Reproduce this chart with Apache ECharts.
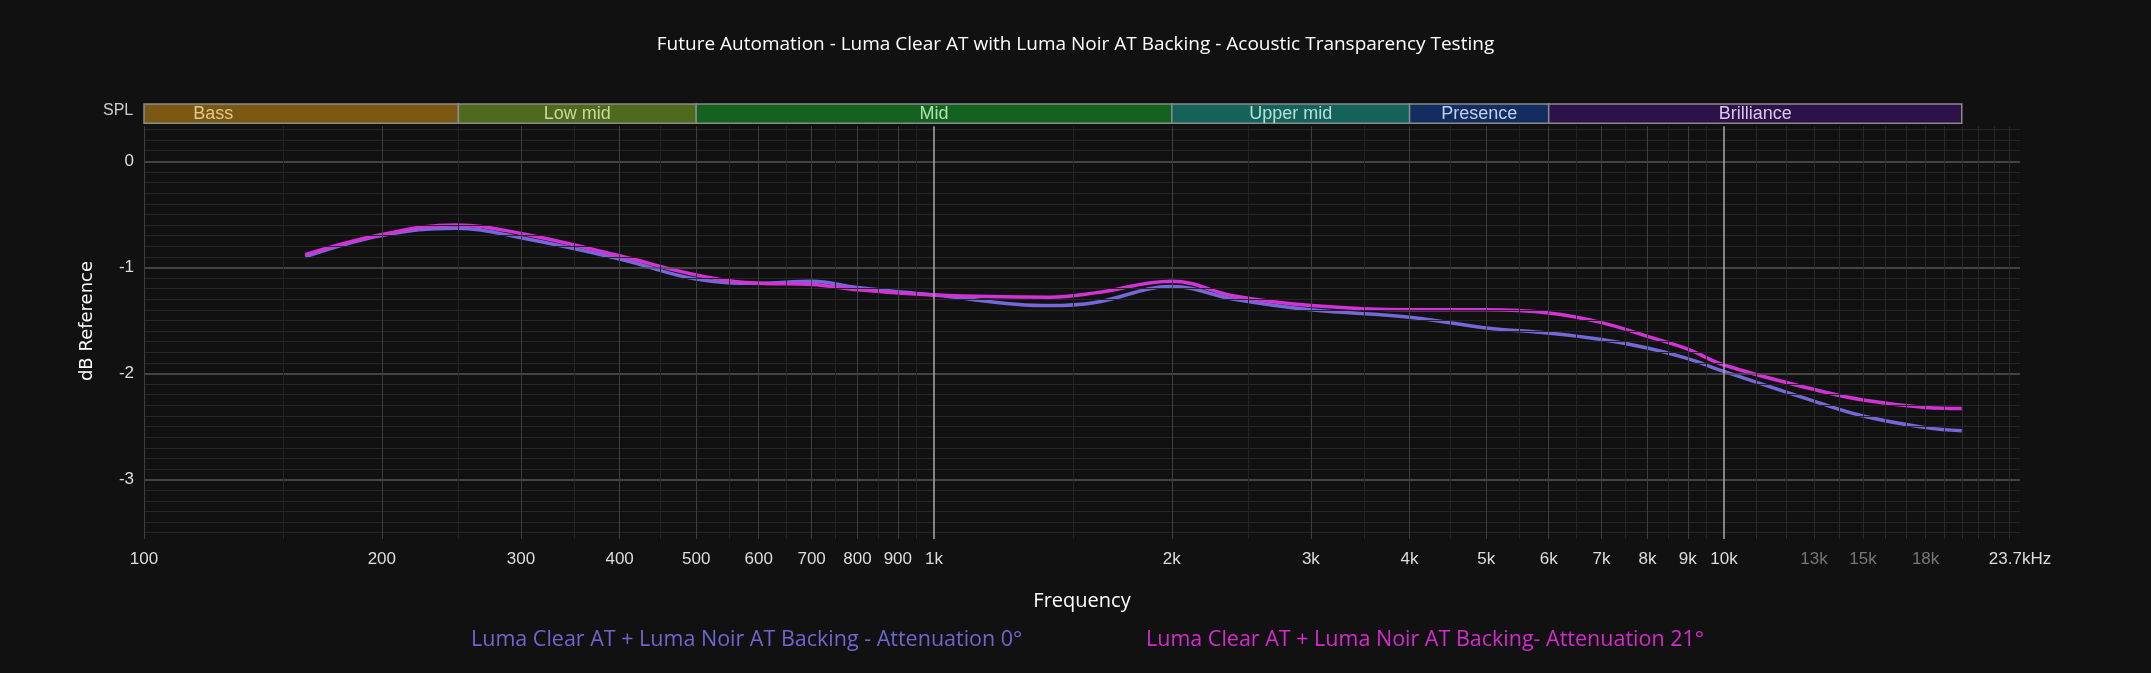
<!DOCTYPE html>
<html><head><meta charset="utf-8">
<script src="https://cdn.jsdelivr.net/npm/echarts@6/dist/echarts.min.js"></script>
<style>html,body{margin:0;background:#111;}#c{width:2151px;height:673px;}</style>
</head><body><div id="c"></div>
<script>
const freqs0 = [160,200,248,300,400,500,600,700,800,1000,1400,1600,2000,2400,3000,4000,5000,6000,7000,8000,9000,10000,13000,15000,18000,20000];
const blue   = [-0.90,-0.70,-0.63,-0.72,-0.92,-1.11,-1.15,-1.13,-1.19,-1.26,-1.36,-1.33,-1.18,-1.30,-1.40,-1.47,-1.57,-1.62,-1.68,-1.76,-1.86,-1.98,-2.26,-2.40,-2.51,-2.54];
const magenta= [-0.88,-0.69,-0.60,-0.68,-0.89,-1.07,-1.15,-1.16,-1.21,-1.26,-1.28,-1.24,-1.13,-1.27,-1.36,-1.40,-1.40,-1.43,-1.52,-1.65,-1.77,-1.92,-2.15,-2.25,-2.32,-2.33];
const tickFreqs = [100,200,300,400,500,600,700,800,900,1000,2000,3000,4000,5000,6000,7000,8000,9000,10000,13000,15000,18000,23700];
const tickLabels = ['100','200','300','400','500','600','700','800','900','1k','2k','3k','4k','5k','6k','7k','8k','9k','10k','13k','15k','18k','23.7kHz'];
const dimTicks = ['13k','15k','18k'];
const yTicks = [0,-1,-2,-3];
const bandNames = ['Bass','Low mid','Mid','Upper mid','Presence','Brilliance'];
const bandEdges = [100,250,500,2000,4000,6000,20000];
const bandColors = ['#7a5812','#4f6a1c','#13621f','#15625a','#132d5e','#2c1249'];
const bandText = ['#e0c890','#c8d8a0','#b0e0b0','#b0e0d8','#c0d0f0','#d8c8f0'];
const seriesNames = ['Luma Clear AT + Luma Noir AT Backing - Attenuation 0°','Luma Clear AT + Luma Noir AT Backing- Attenuation 21°'];

const YMIN=-3.56, YTOP=0.33, YMAX=0.55, BAR0=0.36;
const gridLines=[];
for(let i=-35;i<=3;i++){const v=i/10;const major=i%10===0;
  gridLines.push([{coord:[100,v],lineStyle:{color:major?'#555':'#262626',width:major?1.5:1,type:'solid'}},{coord:[23700,v]}]);}
const vLines=[];
for(let d=100;d<=10000;d*=10){for(let m=1;m<10;m++){for(const h of [0,0.5]){const f=d*(m+h);if(f>23700)continue;
  const lab=(h===0);const bright=(f===1000||f===10000);
  vLines.push([{coord:[f,YMIN],lineStyle:{type:'solid',color:bright?'#aaa':(lab&&(f<11000)?'#3e3e3e':'#242424'),width:bright?1.5:1}},{coord:[f,YTOP]}]);}}}
for(let f=11000;f<=23000;f+=1000){vLines.push([{coord:[f,YMIN],lineStyle:{type:'solid',color:'#2a2a2a',width:1}},{coord:[f,YTOP]}]);}

const bandAreas=bandNames.map((n,i)=>[{name:n,coord:[bandEdges[i],BAR0],itemStyle:{color:bandColors[i],borderColor:'#8a8a8a',borderWidth:1.5},
  label:i===0?{color:bandText[i],position:'insideLeft',distance:50}:{color:bandText[i]}},{coord:[bandEdges[i+1],YMAX-0.01]}]);

const chart=echarts.init(document.getElementById('c'));
chart.setOption({
  backgroundColor:'#111111',
  animation:false,
  title:{text:'Future Automation - Luma Clear AT with Luma Noir AT Backing - Acoustic Transparency Testing',left:'center',top:30,textStyle:{color:'#fff',fontSize:19,fontWeight:'normal',fontFamily:'Open Sans'}},
  grid:{left:144,right:131,top:103,bottom:134},
  legend:[
    {data:[{name:seriesNames[0],textStyle:{color:'#6f66cf'}}],left:460,top:624,itemWidth:0,itemHeight:0,textStyle:{fontSize:21.5,fontFamily:'Open Sans'}},
    {data:[{name:seriesNames[1],textStyle:{color:'#d62ad0'}}],left:1135,top:624,itemWidth:0,itemHeight:0,textStyle:{fontSize:21.5,fontFamily:'Open Sans'}}
  ],
  xAxis:{type:'log',logBase:10,min:100,max:23700,name:'Frequency',nameLocation:'middle',nameGap:52,
    nameTextStyle:{color:'#fff',fontSize:20,fontFamily:'Open Sans'},
    axisLine:{show:false},axisTick:{show:false},splitLine:{show:false},
    axisLabel:{customValues:tickFreqs,margin:12,fontSize:17,fontFamily:'Liberation Sans',
      formatter:v=>{const i=tickFreqs.findIndex(f=>Math.abs(f-v)<1);const t=i>=0?tickLabels[i]:'';return dimTicks.includes(t)?'{d|'+t+'}':t;},
      color:'#ddd',rich:{d:{color:'#777',fontSize:17,fontFamily:'Liberation Sans'}}}},
  yAxis:{type:'value',min:YMIN,max:YMAX,name:'dB Reference',nameLocation:'middle',nameGap:48,nameRotate:90,
    nameTextStyle:{color:'#fff',fontSize:18,fontFamily:'DejaVu Sans'},
    axisLine:{show:false},axisTick:{show:false},splitLine:{show:false},
    axisLabel:{customValues:yTicks,color:'#ddd',fontSize:17,margin:10,fontFamily:'Liberation Sans'}},
  graphic:[{type:'text',left:103,top:103,style:{text:'SPL',fill:'#ccc',fontSize:16,fontFamily:'Liberation Sans'}}],
  series:[
    {type:'line',name:'grid',silent:true,data:[],markLine:{silent:true,symbol:'none',label:{show:false},lineStyle:{type:'solid'},data:gridLines.concat(vLines)},
     markArea:{silent:true,label:{show:true,position:'inside',fontSize:18,fontFamily:'Liberation Sans'},data:bandAreas}},
    {type:'line',name:seriesNames[0],smooth:0.4,showSymbol:false,data:freqs0.map((f,i)=>[f,blue[i]]),lineStyle:{color:'#7468d8',width:3.5},itemStyle:{color:'#7468d8'}},
    {type:'line',name:seriesNames[1],smooth:0.4,showSymbol:false,data:freqs0.map((f,i)=>[f,magenta[i]]),lineStyle:{color:'#d232d6',width:3.5},itemStyle:{color:'#d232d6'}}
  ]
});
</script></body></html>
